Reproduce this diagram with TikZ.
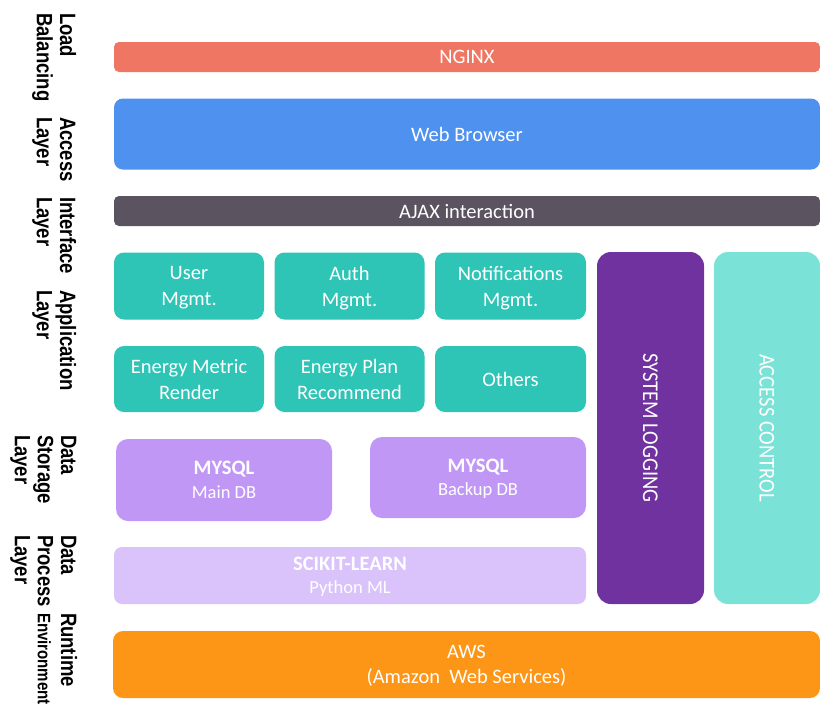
\documentclass[tikz,border=0pt]{standalone}
\usepackage{fontspec}
\usepackage{graphicx}
\setmainfont{Carlito}
\newfontfamily\lblfont{Liberation Sans}
\definecolor{cNginx}{HTML}{EF7662}
\definecolor{cWeb}{HTML}{4F91EF}
\definecolor{cAjax}{HTML}{5B535F}
\definecolor{cTeal}{HTML}{2EC4B6}
\definecolor{cMysql}{HTML}{C197F6}
\definecolor{cSci}{HTML}{D9C3FA}
\definecolor{cLog}{HTML}{70329E}
\definecolor{cAcc}{HTML}{7AE2D6}
\definecolor{cAws}{HTML}{FD9516}
\newcommand{\lyr}[1]{\scalebox{1}[1.2]{\lblfont\bfseries\fontsize{18.5}{19.2}\selectfont\begin{tabular}[t]{@{}l@{}}#1\end{tabular}}}
\newcommand{\vtxt}[1]{\scalebox{1}[1.1]{#1}}
\tikzset{
  tile/.style={inner sep=0pt, outer sep=0pt, text=white, align=center, text depth=0pt, font=\fontsize{20.5}{26}\selectfont},
  dbtile/.style={tile, font=\fontsize{18.5}{23.5}\selectfont},
  layerlbl/.style={inner sep=0pt, outer sep=0pt, rotate=-90, anchor=base west, text=black}
}
\begin{document}
\begin{tikzpicture}[x=1pt,y=-1pt]
\useasboundingbox[fill=white] (0,0) rectangle (820,713);
% layer labels
\node[layerlbl] (l1) at (60,13) {\lyr{Load\\Balancing}};
\node[layerlbl] (l2) at (60,117) {\lyr{Access\\Layer}};
\node[layerlbl] (l3) at (60,197) {\lyr{Interface\\Layer}};
\node[layerlbl] (l4) at (60,290) {\lyr{Application\\Layer}};
\node[layerlbl] (l5) at (61,435) {\lyr{Data\\Storage\\Layer}};
\node[layerlbl] (l6) at (61,535) {\lyr{Data\\Process\\Layer}};
\node[layerlbl] (l7) at (61,613) {\lyr{Runtime\\{\fontsize{15}{16}\selectfont Environment}}};
% top layers
\node[tile, fill=cNginx, minimum width=706pt, minimum height=30pt, rounded corners=5pt] (nginx) at (467,57) {NGINX};
\node[tile, fill=cWeb, minimum width=706pt, minimum height=71pt, rounded corners=9pt] (web) at (467,134) {Web Browser};
\node[tile, fill=cAjax, minimum width=706pt, minimum height=30pt, rounded corners=5pt] (ajax) at (467,211) {AJAX interaction};
% application layer
\node[tile, fill=cTeal, minimum width=150pt, minimum height=67pt, rounded corners=10pt] (user) at (189,286) {User\\Mgmt.};
\node[tile, fill=cTeal, minimum width=150pt, minimum height=67pt, rounded corners=10pt] (auth) at (349.5,286) {Auth\\Mgmt.};
\node[tile, fill=cTeal, minimum width=151pt, minimum height=67pt, rounded corners=10pt] (notif) at (510.5,286) {Notifications\\Mgmt.};
\node[tile, fill=cTeal, minimum width=150pt, minimum height=66pt, rounded corners=10pt] (metric) at (189,379) {Energy Metric\\Render};
\node[tile, fill=cTeal, minimum width=150pt, minimum height=66pt, rounded corners=10pt] (plan) at (349.5,379) {Energy Plan\\Recommend};
\node[tile, fill=cTeal, minimum width=151pt, minimum height=66pt, rounded corners=10pt] (others) at (510.5,379) {Others};
% data storage
\node[dbtile, fill=cMysql, minimum width=216pt, minimum height=82pt, rounded corners=12pt] (maindb) at (224,480) {{\fontsize{20.5}{23.5}\selectfont\bfseries MYSQL}\\Main DB};
\node[dbtile, fill=cMysql, minimum width=216pt, minimum height=81pt, rounded corners=12pt] (backupdb) at (478,477.5) {{\fontsize{20.5}{23.5}\selectfont\bfseries MYSQL}\\Backup DB};
% data process
\node[dbtile, fill=cSci, minimum width=472pt, minimum height=57pt, rounded corners=8pt] (sci) at (350,575.5) {{\fontsize{20.5}{23.5}\selectfont\bfseries SCIKIT-LEARN}\\Python ML};
% side columns
\node[tile, fill=cLog, rotate=-90, minimum width=352pt, minimum height=107pt, rounded corners=14pt] (syslog) at (650.5,428) {\vtxt{SYSTEM LOGGING}};
\node[tile, fill=cAcc, rotate=-90, minimum width=352pt, minimum height=106pt, rounded corners=14pt] (access) at (767,428) {\vtxt{ACCESS CONTROL}};
% runtime
\node[tile, fill=cAws, minimum width=707pt, minimum height=67pt, rounded corners=10pt, font=\fontsize{20.5}{25}\selectfont] (aws) at (466.5,664.5) {AWS\\(Amazon~ Web Services)};
\end{tikzpicture}
\end{document}
